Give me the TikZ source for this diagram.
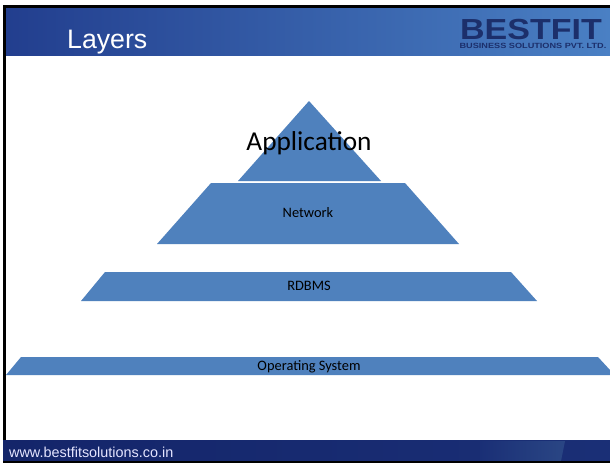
\documentclass[tikz,border=0pt]{standalone}
\usepackage{fontspec}
\usepackage{graphicx}
\setmainfont{Carlito}
\newfontfamily\arialfont{Liberation Sans}
\definecolor{layerblue}{HTML}{4F81BD}
\definecolor{logonavy}{HTML}{1C2F6B}
\definecolor{headleft}{HTML}{223E8E}
\definecolor{headmid}{HTML}{3A6FB2}
\definecolor{headright}{HTML}{4A80C4}
\definecolor{footleft}{HTML}{14256A}
\definecolor{footright}{HTML}{1A2F76}
\definecolor{footfacet}{HTML}{2A4684}
\tikzset{
  layertext/.style={text=black,font=\fontsize{14.4}{16}\selectfont,inner sep=0pt},
  layerfill/.style={fill=layerblue}
}
\begin{document}
\begin{tikzpicture}[x=1pt,y=-1pt]
\useasboundingbox (0,0) rectangle (610,463);
\fill[white] (0,0) rectangle (610,463);

% header and footer
\shade[left color=headleft,middle color=headmid,right color=headright] (5,8) rectangle (610,55);
\shade[left color=footleft,right color=footright] (3,440) rectangle (610,461);
\shade[left color=footright,right color=footfacet] (480,441) -- (565,441) -- (561,461) -- (480,461) -- cycle;
\fill[black] (3,5) rectangle (610,8);
\fill[black] (3,8) rectangle (6,440);
\fill[black] (3,461) rectangle (610,463);

\fill node[text=white,font=\arialfont\fontsize{26.7}{30}\selectfont,inner sep=0pt,anchor=base west] (title) at (67,48) {Layers};
\fill node[text=logonavy,inner sep=0pt,anchor=base] (logo) at (531,39) {\scalebox{1.7}[1.45]{\arialfont\bfseries\fontsize{20}{22}\selectfont BESTFIT}};
\fill node[text=logonavy,inner sep=0pt,anchor=base] (company) at (533,48.5) {\scalebox{1.22}[1]{\arialfont\bfseries\fontsize{7.5}{8}\selectfont BUSINESS SOLUTIONS PVT. LTD.}};

% layers
\fill[layerfill] (309,101) -- (381,181) -- (238,181) -- cycle;
\fill[layerfill] (211,183) -- (405,183) -- (459,244) -- (157,244) -- cycle;
\fill[layerfill] (105,272) -- (511,272) -- (537,301) -- (81,301) -- cycle;
\fill[layerfill] (21,357) -- (598,357) -- (610,370) -- (610,375) -- (6,375) -- cycle;

\fill node[layertext,font=\fontsize{27.3}{30}\selectfont] (application) at (309,143) {Application};
\fill node[layertext] (network) at (308,212.5) {Network};
\fill node[layertext] (rdbms) at (309,285.5) {RDBMS};
\fill node[layertext] (os) at (309,366.5) {Operating System};

\fill node[text=white!90!blue,font=\arialfont\fontsize{14.4}{16}\selectfont,inner sep=0pt,anchor=base west] (url) at (9,457) {www.bestfitsolutions.co.in};
\end{tikzpicture}
\end{document}
